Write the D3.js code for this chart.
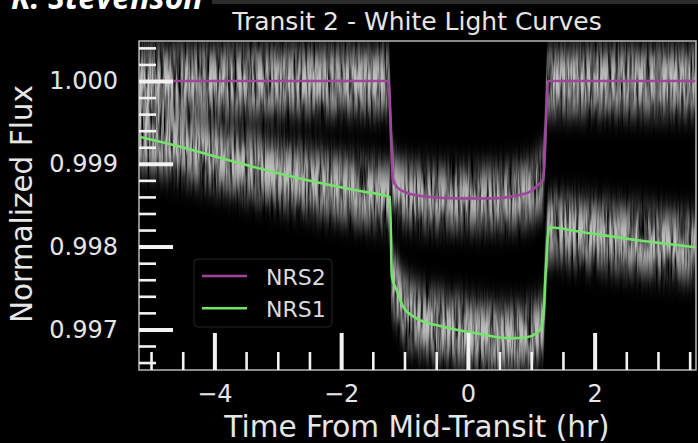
<!DOCTYPE html>
<html><head><meta charset="utf-8">
<script src="https://cdn.jsdelivr.net/npm/d3@7"></script>
<style>html,body{margin:0;padding:0;background:#000;overflow:hidden}</style>
</head><body><svg id="c" width="698" height="443"></svg>
<script>
// ---------- data ----------
const xTickLabels = [-4, -2, 0, 2];
const yTickLabels = [0.997, 0.998, 0.999, 1.000];
const seriesNames = ["NRS2", "NRS1"];

// NRS2 model (time in hr, normalized flux)
const nrs2Time = [-5.19, -1.257, -1.178, -1.125, -0.967, -0.651, -0.126, 0.347, 0.926, 1.136, 1.188, 1.267, 3.6];
const nrs2Flux = [1.0, 1.0, 0.998804, 0.998723, 0.998651, 0.998603, 0.998583, 0.998583, 0.998644, 0.998764, 0.998804, 1.0, 1.0];
// half-width of the observed point scatter around NRS2
const nrs2Scatter = [0.00034, 0.00034, 0.00031, 0.00031, 0.00031, 0.00031, 0.00031, 0.00031, 0.00031, 0.00031, 0.00031, 0.00034, 0.00034];

// NRS1 model
const nrs1Time = [-5.19, -4.648, -3.596, -2.544, -1.703, -1.282, -1.230, -1.199, -1.125, -1.020, -0.809, -0.390, 0.137, 0.662, 0.926, 1.084, 1.162, 1.199, 1.222, 1.282, 1.767, 2.713, 3.607];
const nrs1Flux = [0.999327, 0.999227, 0.999006, 0.998804, 0.998671, 0.998611, 0.998599, 0.997633, 0.997476, 0.997274, 0.997134, 0.997033, 0.996953, 0.996893, 0.996905, 0.996953, 0.997033, 0.997234, 0.997597, 0.998233, 0.998180, 0.998074, 0.997992];
const nrs1Scatter = [0.00033, 0.00033, 0.00033, 0.00033, 0.00033, 0.00033, 0.00033, 0.00034, 0.00034, 0.00034, 0.00034, 0.00034, 0.00034, 0.00034, 0.00034, 0.00034, 0.00034, 0.00034, 0.00034, 0.00034, 0.00034, 0.00034, 0.00034];

const colors = {NRS2: "#a0469c", NRS1: "#74e36a"};

// ---------- chart ----------
const svg = d3.select("#c");
const m = {l: 139, r: 696, t: 41, b: 370};
const x = d3.scaleLinear().domain([-5.19, 3.6]).range([m.l, m.r]);
const y = d3.scaleLinear().domain([0.99651, 1.000483]).range([m.b, m.t]);

svg.append("rect").attr("width", 698).attr("height", 443).attr("fill", "#000");
svg.append("rect").attr("x", 212).attr("y", 0).attr("width", 486).attr("height", 4).attr("fill", "#2c2c2c");

const defs = svg.append("defs");
defs.append("clipPath").attr("id", "plotClip").append("rect")
  .attr("x", m.l).attr("y", m.t).attr("width", m.r - m.l).attr("height", m.b - m.t);

const f = defs.append("filter").attr("id", "noise")
  .attr("filterUnits", "userSpaceOnUse").attr("x", m.l).attr("y", 0)
  .attr("width", m.r - m.l).attr("height", 443)
  .attr("color-interpolation-filters", "sRGB");
f.append("feGaussianBlur").attr("in", "SourceGraphic").attr("stdDeviation", "0.6 14").attr("result", "soft");
f.append("feTurbulence").attr("type", "fractalNoise").attr("baseFrequency", "0.38 0.02")
  .attr("numOctaves", 3).attr("seed", 7).attr("result", "turb");
f.append("feColorMatrix").attr("in", "turb").attr("type", "matrix")
  .attr("values", "0 0 0 0 0  0 0 0 0 0  0 0 0 0 0  2.3 0 0 0 -0.4").attr("result", "streak");
f.append("feGaussianBlur").attr("in", "streak").attr("stdDeviation", "0.5 1").attr("result", "streak2");
f.append("feComposite").attr("in", "soft").attr("in2", "streak2").attr("operator", "in");

const series = [
  {name: "NRS2", pts: nrs2Time.map((t, i) => ({t, f: nrs2Flux[i], s: nrs2Scatter[i]}))},
  {name: "NRS1", pts: nrs1Time.map((t, i) => ({t, f: nrs1Flux[i], s: nrs1Scatter[i]}))}
];

const plot = svg.append("g").attr("clip-path", "url(#plotClip)");
const bandG = plot.append("g").attr("filter", "url(#noise)");
const area = d3.area().x(d => x(d.t)).y0(d => y(d.f - d.s)).y1(d => y(d.f + d.s)).curve(d3.curveMonotoneX);
series.forEach(s => {
  bandG.append("path").datum(s.pts).attr("d", area).attr("fill", "#c4c4c4");
});

const line = d3.line().x(d => x(d.t)).y(d => y(d.f)).curve(d3.curveMonotoneX);
series.forEach(s => {
  plot.append("path").datum(s.pts).attr("d", line).attr("fill", "none")
    .attr("stroke", colors[s.name]).attr("stroke-width", 2.6);
});

// frame
svg.append("rect").attr("x", m.l).attr("y", m.t).attr("width", m.r - m.l).attr("height", m.b - m.t)
  .attr("fill", "none").attr("stroke", "#b8b8b8").attr("stroke-width", 1.5);

// ticks
const near = (v, arr, eps) => arr.some(a => Math.abs(a - v) < eps);
const minorX = d3.range(-5, 3.6, 0.5).filter(v => !near(v, xTickLabels, 1e-6));
const minorY = d3.range(0.9966, 1.00045, 0.0002).filter(v => !near(v, yTickLabels, 1e-7));

function styleAxis(g, w) {
  g.select(".domain").remove();
  g.selectAll(".tick line").attr("stroke", "#f2f2f2").attr("stroke-width", w);
  g.selectAll(".tick text").attr("fill", "#e6e6e6").attr("font-family", "DejaVu Sans").attr("font-size", 24);
}

svg.append("g").attr("transform", `translate(0,${m.b})`)
  .call(d3.axisBottom(x).tickValues(minorX).tickSize(-18).tickFormat(""))
  .call(g => styleAxis(g, 2.6));
svg.append("g").attr("transform", `translate(0,${m.b})`)
  .call(d3.axisBottom(x).tickValues(xTickLabels).tickSize(-37).tickPadding(15).tickFormat(d3.format("d")))
  .call(g => styleAxis(g, 4));
svg.append("g").attr("transform", `translate(${m.l},0)`)
  .call(d3.axisLeft(y).tickValues(minorY).tickSize(-17).tickFormat(""))
  .call(g => styleAxis(g, 2.6));
svg.append("g").attr("transform", `translate(${m.l},0)`)
  .call(d3.axisLeft(y).tickValues(yTickLabels).tickSize(-34).tickPadding(21).tickFormat(d3.format(".3f")))
  .call(g => styleAxis(g, 4));
svg.selectAll("g text").attr("font-family", "DejaVu Sans");

// titles
svg.append("text").attr("x", 417).attr("y", 30).attr("text-anchor", "middle")
  .attr("font-family", "DejaVu Sans").attr("font-size", 25).attr("fill", "#e6e6e6")
  .text("Transit 2 - White Light Curves");
svg.append("text").attr("x", 417).attr("y", 437).attr("text-anchor", "middle")
  .attr("font-family", "DejaVu Sans").attr("font-size", 29.5).attr("fill", "#e6e6e6")
  .text("Time From Mid-Transit (hr)");
svg.append("text").attr("transform", "translate(31.5,204) rotate(-90)").attr("text-anchor", "middle")
  .attr("font-family", "DejaVu Sans").attr("font-size", 29.5).attr("fill", "#e6e6e6")
  .text("Normalized Flux");
svg.append("text").attr("x", 11).attr("y", 9)
  .attr("font-family", "Open Sans").attr("font-style", "italic").attr("font-weight", 700)
  .attr("font-size", 32).attr("fill", "#ffffff").text("K. Stevenson");

// legend
const lg = svg.append("g");
lg.append("rect").attr("x", 194).attr("y", 259).attr("width", 138).attr("height", 68).attr("rx", 4)
  .attr("fill", "#000").attr("fill-opacity", 0.8).attr("stroke", "#262626").attr("stroke-width", 1);
seriesNames.forEach((n, i) => {
  const yy = 276 + i * 32.3;
  lg.append("line").attr("x1", 202).attr("x2", 247).attr("y1", yy).attr("y2", yy)
    .attr("stroke", colors[n]).attr("stroke-width", 2.6);
  lg.append("text").attr("x", 266).attr("y", yy + 8.5).attr("font-family", "DejaVu Sans")
    .attr("font-size", 22).attr("fill", "#dcdcdc").text(n);
});
</script></body></html>
